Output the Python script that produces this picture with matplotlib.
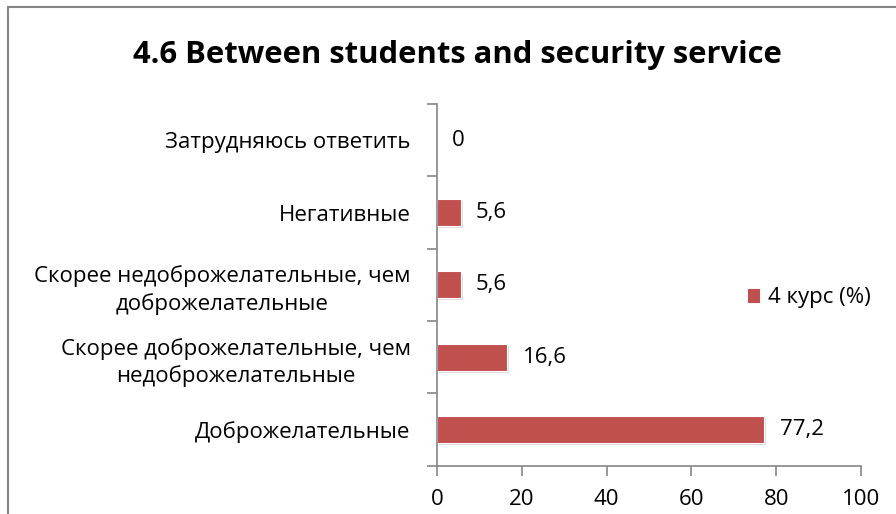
import matplotlib
matplotlib.use('Agg')
import matplotlib.pyplot as plt
import matplotlib.patheffects as pe
from matplotlib.patches import Rectangle

plt.rcParams['font.family'] = ['Open Sans', 'DejaVu Sans']

# данные (снизу вверх)
kategorijos = [
    'Доброжелательные',
    'Скорее доброжелательные, чем\nнедоброжелательные',
    'Скорее недоброжелательные, чем\nдоброжелательные',
    'Негативные',
    'Затрудняюсь ответить',
]
reiksmes = [77.2, 16.6, 5.6, 5.6, 0]
zymes = ['77,2', '16,6', '5,6', '5,6', '0']
x_ticks = [0, 20, 40, 60, 80, 100]
serija = '4 курс (%)'

SPALVA = '#C0504D'
PILKA = '#868686'
FS = 16

fig = plt.figure(figsize=(8.96, 5.14), dpi=100)
ax = fig.add_axes([437 / 896, 1 - 465.7 / 514, 424 / 896, (465.7 - 104) / 514])

pos = list(range(len(kategorijos)))
bars = ax.barh(pos, reiksmes, height=0.37, color=SPALVA, edgecolor='white',
               linewidth=0.8, label=serija,
               path_effects=[pe.SimplePatchShadow(offset=(1.5, -1.5), alpha=0.15), pe.Normal()])

for p, v, t in zip(pos, reiksmes, zymes):
    ax.annotate(t, (v, p), xytext=(11, 0), textcoords='offset points',
                va='center', ha='left', fontsize=FS)

ax.set_xlim(0, 100)
ax.set_ylim(-0.5, len(kategorijos) - 0.5)
ax.set_xticks(x_ticks)
ax.set_xticklabels([str(x) for x in x_ticks], fontsize=FS)

# ribos tarp kategorijų – didieji, pavadinimai – mažieji
ax.set_yticks([i - 0.5 for i in range(len(kategorijos) + 1)])
ax.set_yticklabels([])
ax.set_yticks(pos, minor=True)
ax.set_yticklabels(kategorijos, minor=True, fontsize=FS, multialignment='center',
                   linespacing=1.35)
ax.tick_params(axis='y', which='major', length=7, width=1.2, color=PILKA, direction='out')
ax.tick_params(axis='y', which='minor', length=0, pad=19)
ax.tick_params(axis='x', which='major', length=7, width=1.2, color=PILKA, direction='out', pad=10)

for s in ['top', 'right']:
    ax.spines[s].set_visible(False)
for s in ['left', 'bottom']:
    ax.spines[s].set_color(PILKA)
    ax.spines[s].set_linewidth(1.2)

fig.text(457 / 896, 1 - 55 / 514, '4.6 Between students and security service',
         ha='center', va='center', fontsize=22.3, fontweight='bold')

leg = ax.legend(loc='center left', bbox_to_anchor=(728 / 896, 1 - 298 / 514),
                bbox_transform=fig.transFigure, frameon=False, fontsize=FS,
                handlelength=0.5, handleheight=0.5, handletextpad=0.4)
for h in leg.legend_handles:
    h.set_path_effects([])
    h.set_edgecolor(SPALVA)

# diagramos rėmelis
fig.patches.append(Rectangle((8 / 896, -0.1), 1.2, 1 - 7 / 514 + 0.1,
                             transform=fig.transFigure, fill=False,
                             edgecolor=PILKA, linewidth=1.5))

plt.savefig('out.png', dpi=100)
